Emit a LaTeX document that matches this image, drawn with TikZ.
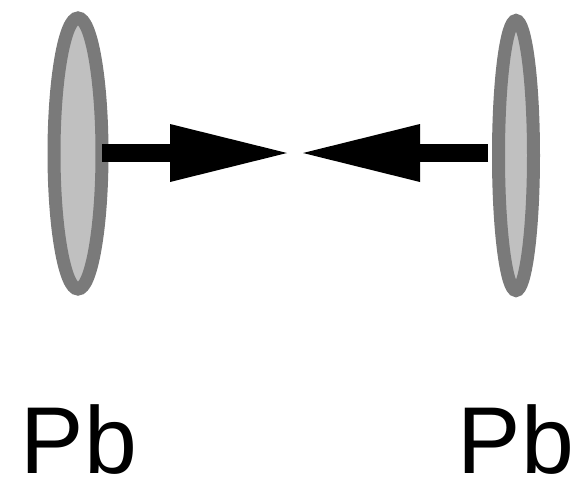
\documentclass[tikz,border=0pt]{standalone}
\usepackage{fontspec}
\setmainfont{Liberation Sans}
\usetikzlibrary{shapes.geometric,arrows.meta}
\definecolor{rim}{HTML}{7A7A7A}
\definecolor{disc}{HTML}{C0C0C0}
\tikzset{
  discnode/.style={ellipse, draw=rim, fill=disc, line width=13pt, inner sep=0pt},
  push/.style={line width=18pt, -{Triangle[length=117pt,width=58pt,line width=0pt]}},
  elem/.style={font=\fontsize{95}{100}\selectfont, inner sep=0pt, anchor=base, text depth=0pt}
}
\begin{document}
\begin{tikzpicture}[x=1pt,y=-1pt]
\useasboundingbox (0,0) rectangle (574,485);
\node[discnode, outer sep=0pt, minimum width=48pt, minimum height=271pt] (L) at (78,153.5) {};
\node[discnode, minimum width=35pt, minimum height=270pt] (R) at (516,155.5) {};
\coordinate (tipL) at (287,153);
\coordinate (tipR) at (303,153);
\draw[push] (L.east |- tipL) -- (tipL);
\draw[push, shorten <=4pt] (R.west |- tipR) -- (tipR);
\node[elem] (pbL) at (79,473) {Pb};
\node[elem] (pbR) at (516,473) {Pb};
\end{tikzpicture}
\end{document}
